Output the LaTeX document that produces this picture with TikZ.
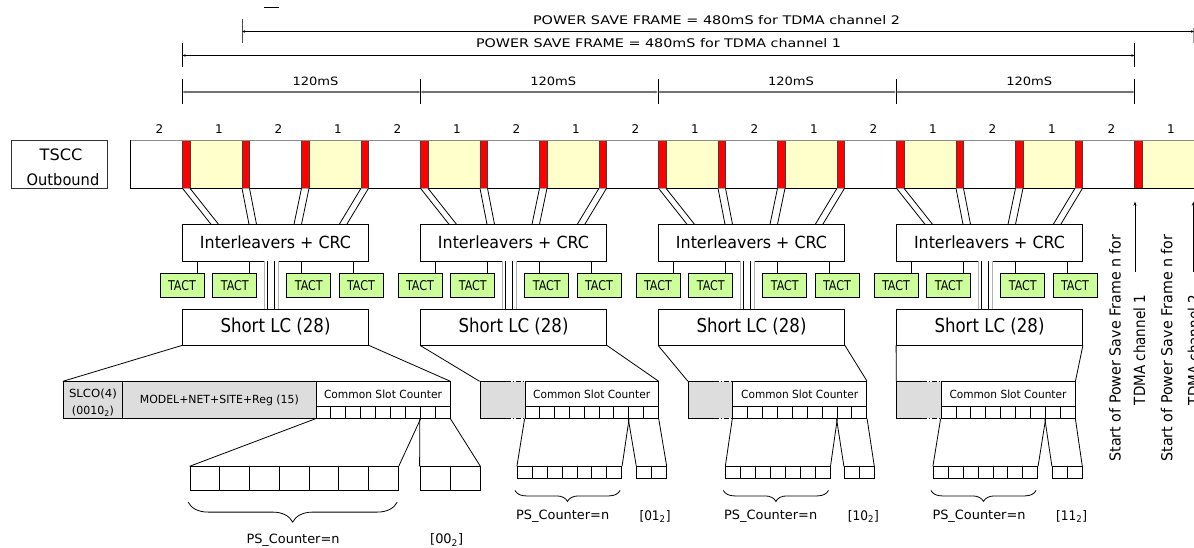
\documentclass[tikz,border=0pt]{standalone}
\usepackage{fontspec}
\setmainfont{DejaVu Sans}
\usepackage{graphicx}
\usetikzlibrary{arrows.meta,calc,decorations.pathreplacing}
\definecolor{slotred}{HTML}{FF0000}
\definecolor{slotyel}{HTML}{FFFFCC}
\definecolor{tactgreen}{HTML}{CCFF99}
\definecolor{cellgray}{HTML}{DDDDDD}
\newcommand{\fw}[3]{\resizebox{#1pt}{#2pt}{#3}}
\begin{document}
\begin{tikzpicture}[x=1pt,y=-1pt,line width=0.8pt,
  box/.style={draw,fill=white,inner sep=0pt},
  graycell/.style={draw,fill=cellgray,inner sep=0pt},
  tact/.style={draw,fill=tactgreen,inner sep=0pt,minimum width=44pt,minimum height=24pt},
  txt/.style={inner sep=0pt},
  dimarr/.style={{Stealth[length=3pt,width=2.5pt]}-{Stealth[length=3pt,width=2.5pt]},line width=0.7pt},
  upar/.style={-{Stealth[length=4pt,width=3pt]},line width=0.6pt},
  slotlab/.style={inner sep=0pt,font=\fontsize{12}{12}\selectfont}]
\useasboundingbox (0,0) rectangle (1194,548);
\fill[white] (0,0) rectangle (1194,548);

% ---------- top dimension lines ----------
\draw (264,7) -- (279,7);
\draw[black!70] (242,19) -- (242,43);
\draw[black!40] (1193,28) -- (1193,43);
\draw[dimarr] (242,31.5) -- (1194,31.5);
\node[txt] (t2) at (716.5,20) {\fw{367}{9}{POWER SAVE FRAME = 480mS for TDMA channel 2}};
\draw (182.5,43) -- (182.5,67);
\draw (1134.5,43) -- (1134.5,67);
\draw[dimarr] (182.5,55.5) -- (1134.5,55.5);
\node[txt] (t1) at (658.5,43) {\fw{365}{9}{POWER SAVE FRAME = 480mS for TDMA channel 1}};
\foreach \a/\b [count=\n] in {182.5/420.5,420.5/658,658/896,896/1134.5} {
  \draw (\a,79) -- (\a,104);
  \draw[dimarr,black!55,line width=1.6pt] (\a,92) -- (\b,92);
  \node[txt] (ms\n) at ({(\a+\b)/2+14},81) {\fw{46}{8.5}{120mS}};
}
\draw (1134.5,79) -- (1134.5,104);

% ---------- TSCC outbound ----------
\node[draw=black!80,minimum width=96pt,minimum height=48.3pt,inner sep=0pt] (tscc) at (59.7,164.2) {};
\node[txt] (tsccA) at (61,155) {\fw{42.7}{11.7}{TSCC}};
\node[txt] (tsccB) at (63,180) {\fw{72.6}{12}{Outbound}};

\fill[white] (130,140) rectangle (1196,188.3);
\foreach \k in {0,...,16} {
  \pgfmathsetmacro{\b}{182.5+59.5*\k}
  \ifodd\k\else
    \fill[slotyel] (\b+7.5,140) rectangle (\b+59.5,188.3);
  \fi
  \draw[black!75,fill=slotred,line width=0.6pt] (\b,140) rectangle (\b+7.5,188.3);
}
\draw[black!45] (130,140) -- (1196,140);
\draw (1196,188.3) -- (130,188.3) -- (130,140);
\node[draw=none,inner sep=0pt,minimum width=1064pt,minimum height=48.3pt] (bar) at (663,164.2) {};
\foreach \k in {-1,...,16} {
  \pgfmathsetmacro{\b}{182.5+59.5*\k}
  \ifodd\k \def\lab{2}\else\def\lab{1}\fi
  \node[slotlab] (sl\k) at (\b+36.5,129) {\lab};
}

% ---------- four processing chains ----------
\foreach \j in {0,1,2,3} {
  \pgfmathsetmacro{\B}{182.5+238*\j}
  \foreach \t/\bo in {0/28.5,59.5/66.5,119/111.5,178.5/156.8} {
    \fill[white] (\B+\t,188.3) -- (\B+\t+7.5,188.3) -- (\B+\bo+7.5,224.3) -- (\B+\bo,224.3) -- cycle;
    \draw (\B+\t,188.3) -- (\B+\bo,224.3) (\B+\t+7.5,188.3) -- (\B+\bo+7.5,224.3);
  }
  \node[box,minimum width=186pt,minimum height=36.7pt] (il\j) at (\B+93,242.7) {\fw{151}{12.7}{Interleavers + CRC}};
  \node[box,minimum width=186pt,minimum height=36pt] (slc\j) at (\B+93,327) {\fw{110}{14.5}{Short LC (28)}};
  \foreach \i/\l/\c/\d in {1/-22.5/14.8/37.3,2/30.3/66.8/36.5,3/104.3/119.2/14.9,4/156.5/170.8/14.3} {
    \node[tact] (tc\j\i) at (\B+\l+22,285.3) {\fw{28}{10}{TACT}};
    \draw ($(il\j.south west)+(\c,0)$) -- ($(tc\j\i.north west)+(\d,0)$);
  }
  \fill[white] ($(il\j.south west)+(81.5,0)$) rectangle ($(slc\j.north west)+(97,0)$);
  \draw[black!30] ($(il\j.south west)+(82,0)$) -- ($(slc\j.north west)+(82,0)$)
                  ($(il\j.south west)+(96.5,0)$) -- ($(slc\j.north west)+(96.5,0)$);
  \draw ($(il\j.south west)+(84.8,0)$) -- ($(slc\j.north west)+(84.8,0)$)
        ($(il\j.south west)+(92.5,0)$) -- ($(slc\j.north west)+(92.5,0)$);
}

% ---------- block 1 detail ----------
\node[graycell,minimum width=59.4pt,minimum height=36.6pt] (slco) at (93,400) {};
\node[txt] (slcoA) at (93,394) {\fw{48}{8.5}{SLCO(4)}};
\node[txt] (slcoB) at (93,411.7) {\fw{42}{8.5}{(0010\textsubscript{2})}};
\node[graycell,minimum width=193.3pt,minimum height=36.6pt] (model) at (219.35,400) {\fw{159}{8.5}{MODEL+NET+SITE+Reg (15)}};
\node[box,minimum width=134pt,minimum height=24.3pt] (csc0) at (383,393.85) {\fw{118}{8.5}{Common Slot Counter}};
\foreach \k in {0,...,8} {
  \node[box,minimum width=14.89pt,minimum height=12.3pt] (c0\k) at ({316+14.89*(\k+0.5)},412.15) {};
}
\foreach \k in {0,...,6} {
  \node[box,minimum width=29.76pt,minimum height=24pt] (p0\k) at ({190+29.76*(\k+0.5)},478.7) {};
}
\foreach \k in {0,1} {
  \node[box,minimum width=30pt,minimum height=24pt] (q0\k) at ({420+30*(\k+0.5)},478.7) {};
}
\draw (slc0.south west) -- (slco.north west);
\draw (slc0.south east) -- (csc0.north east);
\draw (c00.south west) -- (p00.north west);
\draw (c06.south east) -- (p06.north east);
\draw (c07.south west) -- (q00.north west);
\draw (c08.south east) -- (q01.north east);
\draw[decorate,decoration={brace,mirror,amplitude=20pt}] ($(p00.south west)+(-1.5,11)$) -- ($(p06.south east)+(-1.5,11)$);
\node[txt] (ps0) at (293,540) {\fw{93}{9.5}{PS\_Counter=n}};
\node[txt] (bits0) at (446.7,540) {\fw{33}{10}{[00\textsubscript{2}]}};

% ---------- blocks 2-4 detail ----------
\foreach \j/\ga/\gb/\gc/\pa/\qa/\psx/\lx/\lab in
  {1/480/525/658.3/517.3/636.7/562.7/655/01,
   2/688.3/732.7/866.7/725.7/844.3/770.7/863.3/10,
   3/896.7/941/1075/933.3/1052.3/979/1071.7/11} {
  \pgfmathsetmacro{\w}{(\gc-\gb)/9}
  \pgfmathsetmacro{\gw}{\gb-\ga}
  \pgfmathsetmacro{\gs}{\ga+0.57*(\gb-\ga)}
  \node[fill=cellgray,inner sep=0pt,minimum width=\gw pt,minimum height=36.6pt] (g\j) at ({(\ga+\gb)/2},400) {};
  \draw (\gs,381.7) -- (\ga,381.7) -- (\ga,418.3) -- (\gs,418.3);
  \draw[dash pattern=on 5pt off 2pt on 1pt off 2pt] (\gs,381.7) -- (\gb,381.7) (\gs,418.3) -- (\gb,418.3);
  \node[box,minimum width={(\gc-\gb)*1pt},minimum height=24.3pt] (csc\j) at ({(\gb+\gc)/2},393.85) {\fw{117}{8.5}{Common Slot Counter}};
  \foreach \k in {0,...,8} {
    \node[box,minimum width=\w pt,minimum height=12.3pt] (c\j\k) at ({\gb+\w*(\k+0.5)},412.15) {};
  }
  \foreach \k in {0,...,6} {
    \node[box,minimum width=14.91pt,minimum height=11.6pt] (p\j\k) at ({\pa+14.91*(\k+0.5)},472.5) {};
  }
  \foreach \k in {0,1} {
    \node[box,minimum width=14.8pt,minimum height=11.6pt] (q\j\k) at ({\qa+14.8*(\k+0.5)},472.5) {};
  }
  \draw (slc\j.south west) -- (g\j.north west);
  \draw (slc\j.south east) -- (csc\j.north east);
  \draw (c\j0.south west) -- (p\j0.north west);
  \draw (c\j6.south east) -- (p\j6.north east);
  \draw (c\j7.south west) -- (q\j0.north west);
  \draw (c\j8.south east) -- (q\j1.north east);
  \draw[decorate,decoration={brace,mirror,amplitude=11pt}] ($(p\j0.south west)+(-2,11.7)$) -- ($(p\j6.south east)+(-2,11.7)$);
  \node[txt] (ps\j) at (\psx,516.7) {\fw{93}{9.5}{PS\_Counter=n}};
  \node[txt] (bits\j) at (\lx,516.7) {\fw{31}{10}{[\lab\textsubscript{2}]}};
}

% ---------- start markers ----------
\coordinate (a1s) at (1135,271.7);
\coordinate (a1e) at (1135,201.7);
\coordinate (a2s) at (1193.3,271.7);
\coordinate (a2e) at (1193.3,201.7);
\draw[upar] (a1s) -- (a1e);
\draw[upar] (a2s) -- (a2e);
\node[txt,rotate=90] (m1a) at (1115,348) {\fw{227}{11.5}{Start of Power Save Frame n for}};
\node[txt,rotate=90] (m1b) at (1139.3,350) {\fw{110}{11.7}{TDMA channel 1}};
\node[txt,rotate=90] (m2a) at (1166.7,348) {\fw{227}{11.5}{Start of Power Save Frame n for}};
\node[txt,rotate=90] (m2b) at (1193.5,350) {\fw{110}{11.7}{TDMA channel 2}};
\end{tikzpicture}
\end{document}
